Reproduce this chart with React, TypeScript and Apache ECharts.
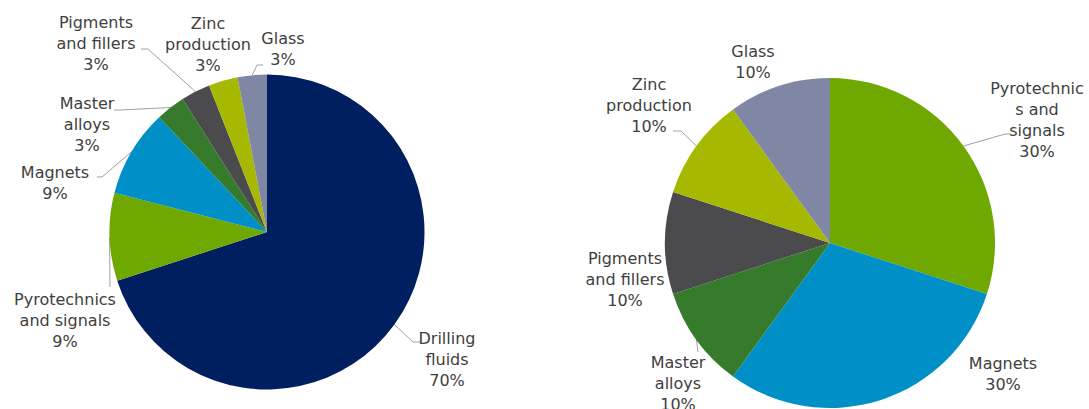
import React, { useEffect, useRef } from "react";
import * as echarts from "echarts";

// ---- Data ----
const leftCategories = [
  "Drilling fluids",
  "Pyrotechnics and signals",
  "Magnets",
  "Master alloys",
  "Pigments and fillers",
  "Zinc production",
  "Glass",
];
const leftValues = [70, 9, 9, 3, 3, 3, 3];
const leftLabelNames = [
  "Drilling\nfluids",
  "Pyrotechnics\nand signals",
  "Magnets",
  "Master\nalloys",
  "Pigments\nand fillers",
  "Zinc\nproduction",
  "Glass",
];

const rightCategories = [
  "Pyrotechnics and signals",
  "Magnets",
  "Master alloys",
  "Pigments and fillers",
  "Zinc production",
  "Glass",
];
const rightValues = [30, 30, 10, 10, 10, 10];
const rightLabelNames = [
  "Pyrotechnic\ns and\nsignals",
  "Magnets",
  "Master\nalloys",
  "Pigments\nand fillers",
  "Zinc\nproduction",
  "Glass",
];

// ---- Styles ----
const categoryColors: Record<string, string> = {
  "Drilling fluids": "#001f60",
  "Pyrotechnics and signals": "#6fa800",
  Magnets: "#008fc7",
  "Master alloys": "#367a2b",
  "Pigments and fillers": "#4b4b4d",
  "Zinc production": "#a7b800",
  Glass: "#8087a5",
};

// label placement: [centerX, centerY, showLine, linePoints after the edge point]
type LabelPos = { x: number; y: number; line: number[][] | null };
const leftLabelPos: LabelPos[] = [
  { x: 447, y: 359, line: [[413, 342], [421, 342]] },
  { x: 65, y: 320, line: [[110, 287], [110, 287]] },
  { x: 55, y: 183, line: [[102, 177], [97, 177]] },
  { x: 87, y: 124, line: [[120, 110], [114, 110]] },
  { x: 96, y: 43, line: [[148, 49], [141, 49]] },
  { x: 208, y: 44, line: null },
  { x: 283, y: 49, line: [[257, 65], [263, 65]] },
];
const rightLabelPos: LabelPos[] = [
  { x: 1037, y: 120, line: [[1005, 134], [1011, 134]] },
  { x: 1003, y: 374, line: null },
  { x: 678, y: 383, line: [[698, 352], [698, 352]] },
  { x: 625, y: 279, line: null },
  { x: 649, y: 105, line: [[681, 131], [673, 131]] },
  { x: 753, y: 62, line: null },
];

function edgePoint(
  values: number[],
  idx: number,
  cx: number,
  cy: number,
  r: number
): number[] {
  const total = values.reduce((a, b) => a + b, 0);
  let before = 0;
  for (let i = 0; i < idx; i++) before += values[i];
  const mid = ((before + values[idx] / 2) / total) * Math.PI * 2;
  return [cx + r * Math.sin(mid), cy - r * Math.cos(mid)];
}

function makeSeries(
  cats: string[],
  vals: number[],
  labelNames: string[],
  pos: LabelPos[],
  center: number[],
  radius: number
) {
  return {
    type: "pie",
    center: center,
    radius: radius,
    startAngle: 90,
    clockwise: true,
    avoidLabelOverlap: false,
    animation: false,
    itemStyle: { borderWidth: 0 },
    label: {
      show: true,
      position: "outside",
      fontFamily: "DejaVu Sans, Verdana, sans-serif",
      fontSize: 16,
      lineHeight: 21,
      color: "#404040",
      align: "center",
      formatter: (p: any) => `${labelNames[p.dataIndex]}\n${p.value}%`,
    },
    labelLine: {
      show: true,
      length: 10,
      length2: 10,
      lineStyle: { color: "#a0a0a0", width: 1 },
    },
    emphasis: { disabled: true },
    labelLayout: (params: any) => {
      const cfg = pos[params.dataIndex];
      const res: any = {
        x: cfg.x,
        y: cfg.y,
        align: "center",
        verticalAlign: "middle",
      };
      if (cfg.line) {
        const start =
          params.labelLinePoints && params.labelLinePoints[0]
            ? params.labelLinePoints[0]
            : edgePoint(vals, params.dataIndex, center[0], center[1], radius);
        res.labelLinePoints = [start, cfg.line[0], cfg.line[1]];
      }
      return res;
    },
    data: cats.map((c, i) => ({
      name: c,
      value: vals[i],
      itemStyle: { color: categoryColors[c] },
      labelLine: { show: !!pos[i].line },
    })),
  };
}

export default function App() {
  const ref = useRef<HTMLDivElement>(null);
  useEffect(() => {
    if (!ref.current) return;
    const chart = echarts.init(ref.current, undefined, { renderer: "svg" });
    chart.setOption({
      animation: false,
      backgroundColor: "#ffffff",
      series: [
        makeSeries(leftCategories, leftValues, leftLabelNames, leftLabelPos, [267, 232], 157.5),
        makeSeries(rightCategories, rightValues, rightLabelNames, rightLabelPos, [830, 243], 165),
      ],
    });
    return () => chart.dispose();
  }, []);
  return (
    <div
      ref={ref}
      style={{ position: "fixed", left: 0, top: 0, width: 1089, height: 409, background: "#fff" }}
    />
  );
}
